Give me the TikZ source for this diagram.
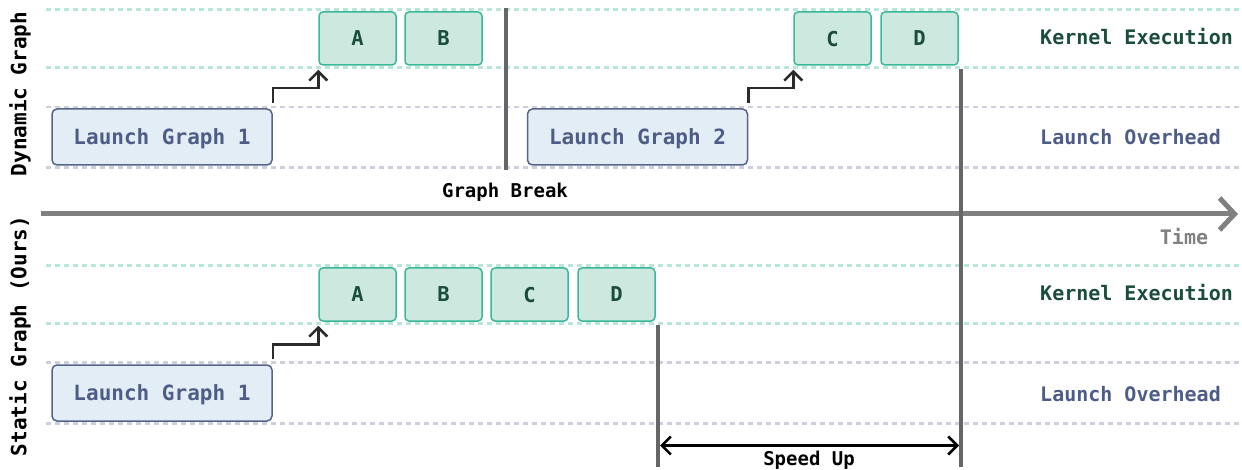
\documentclass[tikz,border=0pt]{standalone}
\usepackage{fontspec}
\newfontfamily\mono{DejaVu Sans Mono}
\usetikzlibrary{arrows.meta}
\definecolor{kfill}{HTML}{CDE8DF}
\definecolor{kborder}{HTML}{3BB89A}
\definecolor{ktext}{HTML}{1B4D3E}
\definecolor{lfill}{HTML}{E3EDF5}
\definecolor{lborder}{HTML}{56648A}
\definecolor{ltext}{HTML}{4E5D87}
\definecolor{gline}{HTML}{B8E6D9}
\definecolor{pline}{HTML}{CDD0DC}
\definecolor{barc}{HTML}{666666}
\definecolor{axisc}{HTML}{808080}
\definecolor{connc}{HTML}{2B2B2B}
\tikzset{
  kbox/.style={draw=kborder, fill=kfill, line width=1.5pt, rounded corners=4pt,
    minimum width=77pt, minimum height=53pt, inner sep=0pt, text=ktext, text depth=0pt,
    font=\mono\bfseries\fontsize{20.5}{24}\selectfont},
  lbox/.style={draw=lborder, fill=lfill, line width=1.5pt, rounded corners=5pt,
    minimum width=220pt, minimum height=56pt, inner sep=0pt, text=ltext, text depth=0pt,
    font=\mono\bfseries\fontsize{21}{25}\selectfont},
  gdash/.style={draw=gline, line width=2.2pt, dash pattern=on 5pt off 4pt},
  pdash/.style={draw=pline, line width=2.2pt, dash pattern=on 5pt off 4pt},
  conn/.style={draw=connc, line width=2.5pt, -{Straight Barb[length=9pt,width=18pt]}},
  vbar/.style={draw=barc, line width=4pt},
  axisline/.style={draw=axisc, line width=5pt, -{Straight Barb[length=15pt,width=32pt]}},
  sidelabel/.style={text=ktext, anchor=west, inner sep=0pt, font=\mono\bfseries\fontsize{20}{24}\selectfont},
  lolabel/.style={text=ltext, anchor=west, inner sep=0pt, font=\mono\bfseries\fontsize{20}{24}\selectfont},
  rowlabel/.style={text=black, rotate=90, inner sep=0pt, font=\mono\bfseries\fontsize{21}{25}\selectfont},
  plain/.style={text=black, inner sep=0pt, font=\mono\bfseries\fontsize{19}{23}\selectfont},
}
\begin{document}
\begin{tikzpicture}[x=1pt,y=-1pt]
\useasboundingbox (0,0) rectangle (1242,470);
% dashed guide lines
\draw[gdash] (46,9.5) -- (1242,9.5);
\draw[gdash] (46,67.5) -- (1242,67.5);
\draw[pdash] (46,107) -- (1242,107);
\draw[pdash] (46,167.5) -- (1242,167.5);
\draw[gdash] (46,265.5) -- (1242,265.5);
\draw[gdash] (46,323.5) -- (1242,323.5);
\draw[pdash] (46,362.5) -- (1242,362.5);
\draw[pdash] (46,423.5) -- (1242,423.5);

% row labels
\node[rowlabel] (dyn) at (20,94) {Dynamic Graph};
\node[rowlabel] (sta) at (20,336) {Static Graph (Ours)};

% top: dynamic graph
\node[kbox] (a1) at (357.5,38.5) {A};
\node[kbox] (b1) at (443.5,38.5) {B};
\node[kbox] (c1) at (832.5,38.5) {C};
\node[kbox] (d1) at (919.5,38.5) {D};
\node[lbox] (lg1) at (162,137) {Launch Graph 1};
\node[lbox] (lg2) at (637.5,137) {Launch Graph 2};
\draw[conn] ([yshift=5pt]lg1.north east) -- ++(0,-15) -| ([yshift=-4pt]a1.south west);
\draw[conn] ([yshift=5pt]lg2.north east) -- ++(0,-15) -| ([yshift=-4pt]c1.south west);
\node[sidelabel] (ke1) at (1040,37) {Kernel Execution};
\node[lolabel] (lo1) at (1040,137) {Launch Overhead};

% graph break bar
\coordinate (gbT) at (506,8);
\coordinate (gbB) at (506,170);
\draw[vbar,line width=4.5pt] (gbT) -- (gbB);
\node[plain] (gb) at (505,192) {Graph Break};

% time axis
\coordinate (t0) at (41,214);
\coordinate (t1) at (1238,214);
\draw[axisline] (t0) -- (t1);
\node[text=axisc, inner sep=0pt, font=\mono\bfseries\fontsize{20}{24}\selectfont] (time) at (1184,237) {Time};

% bottom: static graph
\node[kbox] (a2) at (357.5,294.5) {A};
\node[kbox] (b2) at (443.5,294.5) {B};
\node[kbox] (c2) at (529.5,294.5) {C};
\node[kbox] (d2) at (616.5,294.5) {D};
\node[lbox] (lg3) at (162,393) {Launch Graph 1};
\draw[conn] ([yshift=5pt]lg3.north east) -- ++(0,-15) -| ([yshift=-4pt]a2.south west);
\node[sidelabel] (ke2) at (1040,293) {Kernel Execution};
\node[lolabel] (lo2) at (1040,394) {Launch Overhead};

% end bars
\coordinate (eT) at (961,69);
\coordinate (eB) at (961,467);
\draw[vbar] (eT) -- (eB);
\coordinate (sT) at (658,325);
\coordinate (sB) at (658,467);
\draw[vbar,line width=3.5pt] (sT) -- (sB);

% speed up
\coordinate (su0) at (660,445.5);
\coordinate (su1) at (959,445.5);
\draw[draw=black, line width=2.5pt, {Straight Barb[length=9pt,width=18pt]}-{Straight Barb[length=9pt,width=18pt]}] (su0) -- (su1);
\node[plain] (su) at (809,460) {Speed Up};
\end{tikzpicture}
\end{document}
